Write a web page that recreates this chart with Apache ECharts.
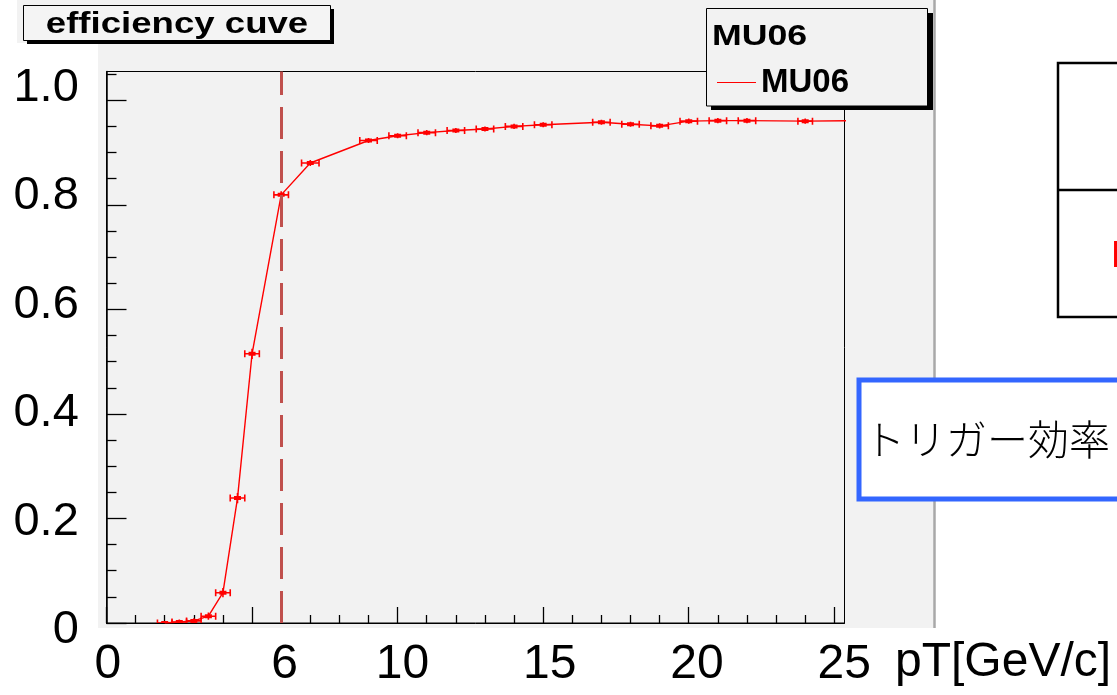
<!DOCTYPE html>
<html>
<head>
<meta charset="utf-8">
<script src="https://cdn.jsdelivr.net/npm/echarts@6/dist/echarts.min.js"></script>
<style>
  html, body { margin: 0; padding: 0; background: #ffffff; }
  #chart { width: 1117px; height: 695px; }
</style>
</head>
<body>
<div id="chart"></div>
<script>
// MU06 trigger efficiency as a function of transverse momentum
const ptValues   = [2, 2.5, 3, 3.5, 4, 4.5, 5, 6, 7, 9, 10, 11, 12, 13, 14, 15, 17, 18, 19, 20, 21, 22, 24, 26];
const efficiency = [0, 0.002, 0.004, 0.013, 0.058, 0.239, 0.515, 0.819, 0.880, 0.923, 0.932, 0.938, 0.942, 0.945, 0.950, 0.953, 0.958, 0.954, 0.951, 0.960, 0.961, 0.961, 0.960, 0.961];
const ptErrors   = [0.25, 0.25, 0.25, 0.25, 0.25, 0.25, 0.25, 0.25, 0.3, 0.3, 0.3, 0.3, 0.3, 0.3, 0.3, 0.3, 0.3, 0.3, 0.3, 0.3, 0.3, 0.3, 0.25, 0.25];
const effErrors  = [0.001, 0.002, 0.002, 0.004, 0.006, 0.007, 0.007, 0.004, 0.003, 0.002, 0.002, 0.002, 0.002, 0.002, 0.002, 0.002, 0.002, 0.002, 0.002, 0.002, 0.002, 0.002, 0.002, 0.002];

const thresholdPt = 6;

// frame ticks
const xMajorTicks = [0, 5, 10, 15, 20, 25];
const xMinorTicks = [1, 2, 3, 4, 6, 7, 8, 9, 11, 12, 13, 14, 16, 17, 18, 19, 21, 22, 23, 24];
const yMajorTicks = [0, 0.2, 0.4, 0.6, 0.8, 1.0];
const yMinorTicks = [0.05, 0.1, 0.15, 0.25, 0.3, 0.35, 0.45, 0.5, 0.55, 0.65, 0.7, 0.75, 0.85, 0.9, 0.95, 1.05];

// large annotation labels
const xLabelValues = [0, 6, 10, 15, 20, 25];
const yLabelValues = [0, 0.2, 0.4, 0.6, 0.8, 1.0];
const xTitle = 'pT[GeV/c]';
const plotTitle = 'efficiency cuve';
const seriesName = 'MU06';
const noteText = 'トリガー効率';

const RED = '#ff0000';
const PANEL = '#f2f2f2';
const SANS = '"Liberation Sans", Arial, sans-serif';

const points = ptValues.map((p, i) => [p, efficiency[i], ptErrors[i], effErrors[i]]);

const chart = echarts.init(document.getElementById('chart'), null, { renderer: 'canvas' });

const frameAxisBase = {
  type: 'value',
  gridIndex: 0,
  axisLabel: { show: false },
  splitLine: { show: false }
};

chart.setOption({
  animation: false,
  backgroundColor: '#ffffff',
  grid: [
    { // plot frame
      left: 106.5, top: 71.5, width: 738, height: 551.5,
      show: true, borderColor: '#000', borderWidth: 1, backgroundColor: 'transparent',
      outerBoundsMode: 'none', containLabel: false
    },
    { // large axis annotations
      left: 107.8, top: 61, width: 751.2, height: 569,
      show: false, outerBoundsMode: 'none', containLabel: false
    }
  ],
  xAxis: [
    Object.assign({}, frameAxisBase, {
      min: 0, max: 25.35, position: 'bottom',
      axisLine: { show: true, lineStyle: { color: '#000', width: 1 } },
      axisTick: { show: true, inside: true, length: 16, customValues: xMajorTicks, lineStyle: { color: '#000', width: 1.3 } }
    }),
    Object.assign({}, frameAxisBase, {
      min: 0, max: 25.35, position: 'bottom',
      axisLine: { show: false },
      axisTick: { show: true, inside: true, length: 8, customValues: xMinorTicks, lineStyle: { color: '#000', width: 1.3 } }
    }),
    {
      type: 'value', gridIndex: 1, min: 0, max: 25.5, position: 'bottom',
      axisLine: { show: false }, axisTick: { show: false }, splitLine: { show: false },
      axisLabel: {
        show: true, customValues: xLabelValues, margin: 11,
        fontSize: 48, fontFamily: SANS, color: '#000'
      },
      name: xTitle, nameLocation: 'end', nameGap: 36,
      nameTextStyle: { fontSize: 48, fontFamily: SANS, color: '#000', verticalAlign: 'top', lineHeight: 66 }
    }
  ],
  yAxis: [
    Object.assign({}, frameAxisBase, {
      min: 0, max: 1.055, position: 'left',
      axisLine: { show: true, lineStyle: { color: '#000', width: 1.5 } },
      axisTick: { show: true, inside: true, length: 20, customValues: yMajorTicks, lineStyle: { color: '#000', width: 1.3 } }
    }),
    Object.assign({}, frameAxisBase, {
      min: 0, max: 1.055, position: 'left',
      axisLine: { show: false },
      axisTick: { show: true, inside: true, length: 10, customValues: yMinorTicks, lineStyle: { color: '#000', width: 1.3 } }
    }),
    {
      type: 'value', gridIndex: 1, min: 0, max: 1.05, position: 'left',
      axisLine: { show: false }, axisTick: { show: false }, splitLine: { show: false },
      axisLabel: {
        show: true, customValues: yLabelValues, margin: 29,
        fontSize: 47, fontFamily: SANS, color: '#000',
        formatter: v => (v === 0 ? '0' : v.toFixed(1))
      }
    }
  ],
  legend: {
    data: [{ name: seriesName, icon: 'path://M0,0H40V1H0Z' }],
    left: 712, top: 61, z: 60,
    itemWidth: 39, itemHeight: 1.4,
    itemStyle: { color: RED, borderWidth: 0 },
    lineStyle: { width: 0 },
    textStyle: { fontSize: 33, fontWeight: 'bold', fontFamily: SANS, color: '#000', padding: [0, 0, 0, 0] }
  },
  series: [
    {
      name: seriesName,
      type: 'line',
      xAxisIndex: 0, yAxisIndex: 0,
      data: points.map(p => [p[0], p[1]]),
      symbol: 'none',
      clip: true,
      lineStyle: { color: RED, width: 1.4 },
      itemStyle: { color: RED },
      z: 3,
      markLine: {
        silent: true, symbol: 'none',
        label: { show: false },
        lineStyle: { color: '#c0504d', width: 3, type: [32, 12] },
        data: [{ xAxis: thresholdPt }]
      }
    },
    {
      name: seriesName + ' errors',
      type: 'custom',
      xAxisIndex: 0, yAxisIndex: 0,
      data: points,
      clip: true,
      z: 4,
      encode: { x: 0, y: 1 },
      renderItem: function (params, api) {
        const x = api.value(0), y = api.value(1), xe = api.value(2), ye = api.value(3);
        const c = api.coord([x, y]);
        const l = api.coord([x - xe, y]);
        const r = api.coord([x + xe, y]);
        const t = api.coord([x, y + ye]);
        const b = api.coord([x, y - ye]);
        const s = { stroke: RED, lineWidth: 1.6, fill: null };
        return {
          type: 'group',
          children: [
            { type: 'line', shape: { x1: l[0], y1: c[1], x2: r[0], y2: c[1] }, style: s },
            { type: 'line', shape: { x1: l[0], y1: c[1] - 3.5, x2: l[0], y2: c[1] + 3.5 }, style: s },
            { type: 'line', shape: { x1: r[0], y1: c[1] - 3.5, x2: r[0], y2: c[1] + 3.5 }, style: s },
            { type: 'line', shape: { x1: c[0], y1: t[1] - 1.5, x2: c[0], y2: b[1] + 1.5 }, style: s },
            { type: 'rect', shape: { x: c[0] - 3.5, y: c[1] - 2, width: 7, height: 4 }, style: { fill: RED } }
          ]
        };
      }
    }
  ],
  graphic: {
    elements: [
      // canvas panel behind the frame
      { type: 'rect', z: -100, shape: { x: 17, y: 0, width: 918, height: 628 }, style: { fill: PANEL } },
      { type: 'line', z: -99, shape: { x1: 934.5, y1: 0, x2: 934.5, y2: 628 }, style: { stroke: '#a8a8a8', lineWidth: 2.5 } },
      { type: 'rect', z: -98, shape: { x: 0, y: 43, width: 98, height: 652 }, style: { fill: '#ffffff' } },

      // title box
      { type: 'rect', z: 50, shape: { x: 27, y: 9, width: 307, height: 35 }, style: { fill: '#000' } },
      { type: 'rect', z: 51, shape: { x: 23.5, y: 5.5, width: 307, height: 35 }, style: { fill: '#f4f4f4', stroke: '#000', lineWidth: 1 } },
      {
        type: 'text', z: 52, x: 177, y: 25, scaleX: 1.22,
        style: { text: plotTitle, font: 'bold 30px ' + SANS, fill: '#000', textAlign: 'center', textVerticalAlign: 'middle' }
      },

      // legend box
      { type: 'rect', z: 50, shape: { x: 711, y: 13, width: 222, height: 97 }, style: { fill: '#000' } },
      { type: 'rect', z: 51, shape: { x: 706.5, y: 8.5, width: 221, height: 97.5 }, style: { fill: PANEL, stroke: '#000', lineWidth: 1 } },
      {
        type: 'text', z: 52, x: 712, y: 37, scaleX: 1.23,
        style: { text: seriesName, font: 'bold 29px ' + SANS, fill: '#000', textAlign: 'left', textVerticalAlign: 'middle' }
      },

      // table on the right
      { type: 'rect', z: 50, shape: { x: 1058, y: 63, width: 100, height: 254 }, style: { fill: '#ffffff', stroke: '#000', lineWidth: 2.5 } },
      { type: 'line', z: 51, shape: { x1: 1058, y1: 190, x2: 1117, y2: 190 }, style: { stroke: '#000', lineWidth: 2.5 } },
      {
        type: 'text', z: 52, x: 1111, y: 257,
        style: { text: seriesName, font: '37px ' + SANS, fill: RED, textAlign: 'left', textVerticalAlign: 'middle' }
      },

      // note box
      { type: 'rect', z: 50, shape: { x: 859, y: 380, width: 270, height: 119 }, style: { fill: '#ffffff', stroke: '#3366ff', lineWidth: 5 } },
      {
        type: 'text', z: 52, x: 864, y: 439,
        style: { text: noteText, font: '300 41px "Noto Sans CJK JP", sans-serif', fill: '#000', textAlign: 'left', textVerticalAlign: 'middle' }
      }
    ]
  }
});
</script>
</body>
</html>
